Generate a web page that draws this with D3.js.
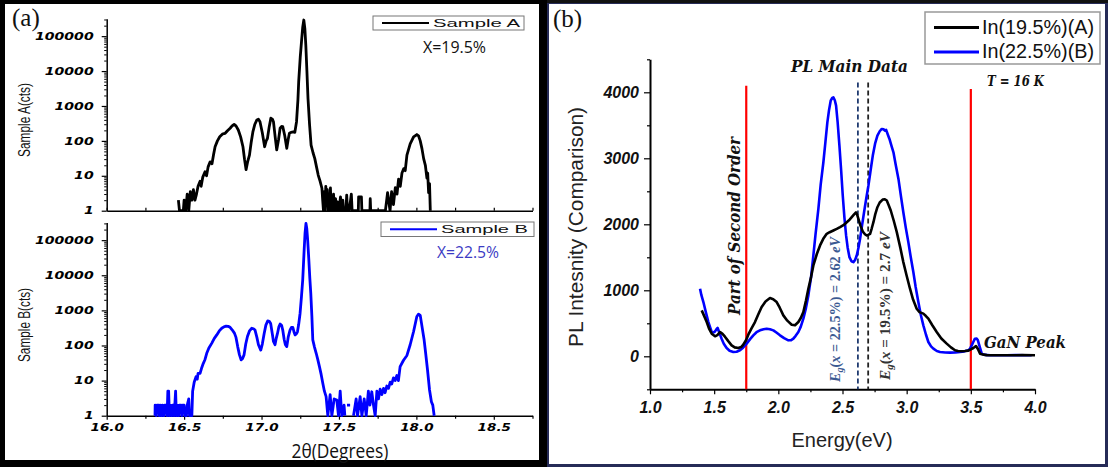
<!DOCTYPE html>
<html>
<head>
<meta charset="utf-8">
<script src="https://cdn.jsdelivr.net/npm/d3@7/dist/d3.min.js"></script>
<style>
  body { margin: 0; background: #fff; }
  svg { display: block; }
</style>
</head>
<body>
<div id="fig"></div>
<script>
// ---------- data ----------
// (a) XRD, sample A (x = 19.5%)
var thetaA = [16.463,16.47,16.495,16.50,16.51,16.52,16.53,16.54,16.55,16.56,16.57,16.58,16.59,16.603,16.61,16.62,16.635,16.645,16.655,16.668,16.68,16.69,16.70,16.715,16.73,16.75,16.765,16.78,16.797,16.81,16.823,16.835,16.85,16.865,16.88,16.89,16.90,16.91,16.922,16.933,16.944,16.957,16.97,16.98,16.99,17.005,17.02,17.03,17.038,17.05,17.06,17.07,17.077,17.088,17.098,17.11,17.12,17.13,17.137,17.15,17.163,17.172,17.18,17.19,17.205,17.215,17.226,17.235,17.24,17.25,17.258,17.266,17.273,17.28,17.286,17.293,17.30,17.31,17.32,17.333,17.344,17.355,17.366,17.378,17.39,17.395,17.40,17.405,17.41,17.415,17.42,17.425,17.43,17.435,17.44,17.445,17.45,17.455,17.46,17.465,17.47,17.478,17.485,17.49,17.50,17.51,17.515,17.525,17.53,17.545,17.55,17.555,17.565,17.575,17.58,17.585,17.60,17.625,17.627,17.645,17.648,17.70,17.702,17.705,17.80,17.814,17.83,17.84,17.852,17.864,17.875,17.885,17.896,17.907,17.918,17.928,17.939,17.96,17.982,18.003,18.014,18.025,18.036,18.047,18.058,18.068,18.073,18.079,18.085,18.09];
var countsA = [2,1,1,2,1,3,1,3.5,2,4,2,3,5,7,5,9,13,10,18,25,22,40,68,100,131,160,165,195,230,270,298,270,205,130,68,30,15,25,39,90,180,300,398,420,355,170,68,100,117,260,445,420,355,130,55,110,230,260,257,140,61,110,165,175,180,175,355,1500,5000,25000,69000,180000,290000,160000,55000,10000,1660,300,76,45,31,18,10.5,7,4.4,2,1,3.5,1,5,1.5,4,1,3,1,4.5,1,2,1,3,1,2.2,1,1.8,1,2.5,1,2,1,1,2.8,1,1,2,3,1,1,1,2.5,2.5,1,1,2.2,1,1,3.3,1,3.5,1.5,4.6,3,8,5,12,16,14,39,82,131,152,140,100,60,31,20,8.6,12,3.3,6,1];

// (a) XRD, sample B (x = 22.5%); null = gap in the trace
var thetaB = [16.312,16.313,16.32,16.325,16.335,16.34,16.345,16.355,16.36,16.37,16.375,16.385,16.39,16.395,16.40,16.405,16.41,16.42,16.425,16.43,16.435,16.44,16.445,16.45,16.455,16.465,16.47,16.48,16.485,16.49,16.50,16.505,16.515,16.52,16.53,16.535,16.545,16.55,16.555,16.565,16.577,16.585,16.59,16.603,16.612,16.624,16.635,16.646,16.66,16.678,16.695,16.711,16.727,16.743,16.757,16.771,16.785,16.797,16.81,16.825,16.835,16.846,16.857,16.868,16.877,16.887,16.898,16.909,16.922,16.937,16.948,16.958,16.97,16.98,16.995,17.005,17.017,17.028,17.04,17.05,17.059,17.07,17.077,17.087,17.095,17.103,17.112,17.12,17.13,17.137,17.146,17.154,17.163,17.173,17.184,17.193,17.202,17.21,17.217,17.225,17.232,17.24,17.249,17.258,17.266,17.275,17.281,17.287,17.292,17.298,17.305,17.312,17.318,17.325,17.331,17.342,17.353,17.363,17.374,17.385,17.396,17.406,17.417,17.428,17.443,17.454,17.469,17.486,17.497,17.508,17.518,17.533,17.538,17.545,17.552,17.572,17.58,17.594,17.611,17.62,17.637,17.648,17.663,17.676,17.69,17.70,17.712,17.723,17.734,17.745,17.755,17.766,17.777,17.788,17.798,17.809,17.82,17.831,17.841,17.852,17.863,17.874,17.884,17.895,17.917,17.939,17.96,17.982,18.003,18.014,18.025,18.035,18.05,18.06,18.072,18.085,18.097,18.106,18.115];
var countsB = [1,2,1,2,2,1,2,1,2,1,2,2,1,5,5,1,2,1,2,2,1,2,5,1,2,1,2,2,1,2,2,1,1,2,3,1,1,1,5,9,13,11,16,16,22,31,40,60,85,115,160,200,260,310,340,355,350,330,280,225,170,93,55,39,42,54,110,180,260,310,300,275,170,105,74,110,220,380,500,490,425,210,130,105,160,220,340,410,370,275,150,105,93,180,275,330,330,240,200,215,245,400,830,2500,7400,50000,158000,300000,220000,100000,30000,8000,3100,700,145,90,60,40,25,15,8.3,5,3.5,1,4,1,3,2.8,1,5,1,2,1,null,2,2,null,1,3,1,3.5,1,3,1,5,2,4.8,2,1,5,3,5.7,4,6,4.5,7,6,9,8,12,10,14,10,25,38,52,105,250,670,780,720,380,145,60,20,5.4,2.5,2,1];

// (b) PL at 16 K
var energyA = [1.403,1.42,1.442,1.46,1.481,1.507,1.525,1.546,1.565,1.584,1.61,1.636,1.66,1.688,1.71,1.727,1.75,1.766,1.79,1.818,1.845,1.87,1.90,1.935,1.96,1.987,2.01,2.039,2.07,2.104,2.13,2.156,2.175,2.195,2.215,2.234,2.255,2.273,2.30,2.325,2.35,2.377,2.40,2.429,2.455,2.481,2.51,2.533,2.555,2.572,2.59,2.605,2.615,2.624,2.64,2.658,2.675,2.689,2.70,2.715,2.728,2.741,2.755,2.772,2.79,2.813,2.83,2.845,2.86,2.876,2.90,2.923,2.95,2.974,3.0,3.026,3.05,3.078,3.10,3.13,3.15,3.169,3.20,3.234,3.27,3.312,3.345,3.377,3.40,3.429,3.455,3.481,3.50,3.52,3.54,3.555,3.572,3.60,3.624,3.70,3.80,3.90,4.0];
var plA = [696,620,519,420,343,303,320,368,340,297,230,166,135,126,140,177,250,328,420,519,640,746,830,882,865,822,740,620,540,479,470,519,580,670,840,1024,1200,1377,1550,1680,1780,1856,1880,1906,1930,1957,1990,2032,2070,2108,2150,2180,2140,2083,1980,1891,1850,1831,1840,1856,1940,2032,2150,2259,2330,2375,2380,2360,2290,2209,2050,1881,1650,1427,1220,1024,860,721,670,646,610,570,470,368,270,192,135,91,80,76,80,86,105,126,156,110,40,25,18,15,15,18,15];
var energyB = [1.39,1.40,1.416,1.435,1.455,1.47,1.481,1.495,1.507,1.518,1.527,1.54,1.558,1.575,1.597,1.62,1.649,1.675,1.701,1.725,1.753,1.78,1.805,1.83,1.857,1.885,1.909,1.935,1.961,1.985,2.013,2.045,2.078,2.10,2.117,2.135,2.156,2.175,2.195,2.215,2.234,2.255,2.273,2.29,2.312,2.33,2.351,2.367,2.382,2.395,2.408,2.42,2.429,2.44,2.45,2.462,2.476,2.49,2.502,2.515,2.528,2.54,2.554,2.57,2.585,2.598,2.611,2.624,2.637,2.652,2.668,2.685,2.702,2.72,2.736,2.755,2.772,2.79,2.806,2.82,2.83,2.84,2.855,2.866,2.88,2.897,2.915,2.936,2.955,2.974,2.993,3.013,3.032,3.052,3.07,3.091,3.11,3.13,3.15,3.169,3.19,3.208,3.235,3.26,3.30,3.338,3.38,3.416,3.45,3.481,3.495,3.507,3.52,3.532,3.545,3.555,3.57,3.585,3.61,3.65,3.70,3.78,3.85,3.92,3.974];
var plB = [1024,930,822,670,519,430,368,360,378,410,429,360,267,190,126,85,66,70,91,130,192,260,318,365,393,410,418,410,393,360,318,275,242,245,267,310,368,450,570,730,923,1200,1528,1850,2234,2600,2940,3250,3545,3730,3873,3915,3923,3880,3798,3550,3192,2800,2436,2100,1831,1650,1503,1440,1427,1460,1528,1640,1780,1980,2183,2390,2587,2830,3041,3230,3344,3410,3445,3440,3420,3430,3350,3293,3200,3091,2900,2688,2430,2183,1950,1730,1500,1276,1050,822,630,469,330,217,150,116,80,66,58,55,58,66,75,91,120,166,220,267,270,242,140,40,22,15,15,15,18,15,15];

// tick values and labels
var logMajor = [1, 10, 100, 1000, 10000, 100000];
var thetaMajor = [16.0, 16.5, 17.0, 17.5, 18.0, 18.5];
var thetaMinor = [16.25, 16.75, 17.25, 17.75, 18.25, 18.75];
var energyMajor = [1.0, 1.5, 2.0, 2.5, 3.0, 3.5, 4.0];
var energyMinor = [1.25, 1.75, 2.25, 2.75, 3.25, 3.75];
var plMajor = [0, 1000, 2000, 3000, 4000];
var plMinor = [-500, 500, 1500, 2500, 3500, 4500];

// annotation values for panel (b)
var redLines = [1.75, 3.5];
var redTops = [4100, 4050];
var gapEnergies = [2.62, 2.70];
var gapTops = [4150, 4150];
var legendNamesB = ["In(19.5%)(A)", "In(22.5%)(B)"];

// ---------- drawing ----------
var W = 1108, H = 467;
var svg = d3.select("#fig").append("svg")
  .attr("width", W).attr("height", H)
  .attr("viewBox", `0 0 ${W} ${H}`);

svg.append("rect").attr("width", W).attr("height", H).attr("fill", "#fff");

// frames: thick black around (a), thin navy around (b)
svg.append("rect").attr("x", 0).attr("y", 0).attr("width", 547).attr("height", H).attr("fill", "#000");
svg.append("rect").attr("x", 5).attr("y", 4).attr("width", 534).attr("height", 456).attr("fill", "#fff");
svg.append("rect").attr("x", 547).attr("y", 0).attr("width", W - 547).attr("height", H).attr("fill", "#262b57");
svg.append("rect").attr("x", 547).attr("y", 0).attr("width", W - 547).attr("height", 3).attr("fill", "#111");
svg.append("rect").attr("x", 549).attr("y", 4).attr("width", 556).attr("height", 460).attr("fill", "#fff");

var tickFont = "'DejaVu Sans', Verdana, sans-serif";

function stretchLabels(g) {
  g.selectAll(".tick text")
    .style("font-family", tickFont)
    .style("font-weight", "bold")
    .style("font-style", "italic")
    .style("font-size", "10px")
    .attr("fill", "#000")
    .attr("lengthAdjust", "spacingAndGlyphs")
    .attr("textLength", function() {
      var s = this.textContent;
      return s.split("").reduce(function(a, c) { return a + (c === "." ? 4 : 9.8); }, 0);
    });
}

function styleAxis(g, w) {
  g.select(".domain").attr("stroke", "#000").attr("stroke-width", w || 1.5);
  g.selectAll(".tick line").attr("stroke", "#000").attr("stroke-width", 1.2);
}

var xA = d3.scaleLinear().domain([16, 18.75]).range([106.7, 532.5]);

function xrdPanel(top, bottom, thetas, counts, color, showLabels, ylabel, ylabelY) {
  var y = d3.scaleLog().domain([1, Math.pow(10, 5.5)]).range([bottom, top]);

  var minors = [];
  logMajor.forEach(function(d) {
    for (var k = 2; k <= 9; k++) if (d * k <= Math.pow(10, 5.5)) minors.push(d * k);
  });

  // x axis
  var gx = svg.append("g").attr("transform", `translate(0,${bottom})`);
  if (showLabels) {
    gx.call(d3.axisBottom(xA).tickValues(thetaMajor).tickSize(4).tickSizeOuter(0)
      .tickPadding(4).tickFormat(d3.format(".1f")));
    stretchLabels(gx);
  } else {
    gx.call(d3.axisTop(xA).tickValues(thetaMajor).tickSize(3).tickSizeOuter(0).tickFormat(""));
  }
  styleAxis(gx);
  var gxm = svg.append("g").attr("transform", `translate(0,${bottom})`)
    .call((showLabels ? d3.axisBottom(xA) : d3.axisTop(xA)).tickValues(thetaMinor).tickSize(3).tickSizeOuter(0).tickFormat(""));
  gxm.select(".domain").remove();
  styleAxis(gxm);

  // y axis
  var gy = svg.append("g").attr("transform", `translate(${xA.range()[0]},0)`)
    .call(d3.axisLeft(y).tickValues(logMajor).tickSize(5).tickSizeOuter(0).tickPadding(8)
      .tickFormat(d3.format("d")));
  stretchLabels(gy);
  styleAxis(gy);
  var gym = svg.append("g").attr("transform", `translate(${xA.range()[0]},0)`)
    .call(d3.axisLeft(y).tickValues(minors).tickSize(2.5).tickFormat(""));
  gym.select(".domain").remove();
  gym.selectAll(".tick line").attr("stroke", "#000").attr("stroke-width", 1);

  // trace
  var pts = thetas.map(function(t, i) { return [t, counts[i]]; });
  var line = d3.line()
    .defined(function(d) { return d[1] !== null; })
    .x(function(d) { return xA(d[0]); })
    .y(function(d) { return y(Math.max(1, d[1])); });
  svg.append("path").datum(pts)
    .attr("d", line)
    .attr("fill", "none")
    .attr("stroke", color)
    .attr("stroke-width", 2.8)
    .attr("stroke-linejoin", "round");

  // y label
  svg.append("text")
    .attr("transform", `translate(30,${ylabelY}) rotate(-90)`)
    .attr("text-anchor", "middle")
    .style("font-family", "'Liberation Sans', Arial, sans-serif")
    .style("font-size", "17px")
    .attr("textLength", 74)
    .attr("lengthAdjust", "spacingAndGlyphs")
    .attr("fill", "#111")
    .text(ylabel);
}

xrdPanel(18.7, 210.7, thetaA, countsA, "#000", false, "Sample A(cts)", 120);
xrdPanel(222.6, 415.7, thetaB, countsB, "#0000ff", true, "Sample B(cts)", 325);

// panel (a) legends and notes
function smallLegend(x0, y0, w, h, color, label) {
  svg.append("rect").attr("x", x0).attr("y", y0).attr("width", w).attr("height", h)
    .attr("fill", "#fff").attr("stroke", "#777").attr("stroke-width", 1);
  svg.append("line").attr("x1", x0 + 9).attr("x2", x0 + 56)
    .attr("y1", y0 + h / 2).attr("y2", y0 + h / 2)
    .attr("stroke", color).attr("stroke-width", 2);
  svg.append("text").attr("x", x0 + 60).attr("y", y0 + h / 2 + 4)
    .style("font-family", "'Liberation Sans', Arial, sans-serif")
    .style("font-size", "11px")
    .attr("textLength", 87).attr("lengthAdjust", "spacingAndGlyphs")
    .attr("fill", "#111")
    .text(label);
}
smallLegend(373, 16, 151, 14, "#000", "Sample A");
smallLegend(381, 222, 153, 14.5, "#0000ff", "Sample B");

svg.append("text").attr("x", 423).attr("y", 53)
  .style("font-family", "'Open Sans', sans-serif").style("font-size", "16px")
  .attr("textLength", 63).attr("lengthAdjust", "spacingAndGlyphs")
  .attr("fill", "#111").text("X=19.5%");
svg.append("text").attr("x", 437).attr("y", 258)
  .style("font-family", "'Open Sans', sans-serif").style("font-size", "16px")
  .attr("textLength", 62).attr("lengthAdjust", "spacingAndGlyphs")
  .attr("fill", "#3b3bc4").text("X=22.5%");

svg.append("text").attr("x", 340).attr("y", 458).attr("text-anchor", "middle")
  .style("font-family", "'Open Sans', sans-serif").style("font-size", "20px")
  .attr("textLength", 97).attr("lengthAdjust", "spacingAndGlyphs")
  .attr("fill", "#111").text("2θ(Degrees)");

svg.append("text").attr("x", 12).attr("y", 26)
  .style("font-family", "'Liberation Serif', 'Times New Roman', serif").style("font-size", "25px")
  .attr("fill", "#111").text("(a)");

// ---------- panel (b) ----------
var xB = d3.scaleLinear().domain([1, 4]).range([650, 1035]);
var yB = d3.scaleLinear().domain([-500, 4500]).range([389.3, 59.3]);
var bFont = "'Liberation Sans', Arial, sans-serif";

function boldTicks(g) {
  g.selectAll(".tick text")
    .style("font-family", bFont).style("font-weight", "bold").style("font-style", "italic")
    .style("font-size", "16px").attr("fill", "#111");
}

var gbx = svg.append("g").attr("transform", `translate(0,${yB(-500)})`)
  .call(d3.axisBottom(xB).tickValues(energyMajor).tickSize(5).tickSizeOuter(0)
    .tickPadding(7).tickFormat(d3.format(".1f")));
boldTicks(gbx); styleAxis(gbx, 2);
var gbxm = svg.append("g").attr("transform", `translate(0,${yB(-500)})`)
  .call(d3.axisBottom(xB).tickValues(energyMinor).tickSize(3).tickFormat(""));
gbxm.select(".domain").remove(); styleAxis(gbxm);

var gby = svg.append("g").attr("transform", `translate(${xB(1)},0)`)
  .call(d3.axisLeft(yB).tickValues(plMajor).tickSize(6).tickSizeOuter(0).tickPadding(5)
    .tickFormat(d3.format("d")));
boldTicks(gby); styleAxis(gby, 2);
var gbym = svg.append("g").attr("transform", `translate(${xB(1)},0)`)
  .call(d3.axisLeft(yB).tickValues(plMinor).tickSize(3).tickFormat(""));
gbym.select(".domain").remove(); styleAxis(gbym);

// marker lines
redLines.forEach(function(e, i) {
  svg.append("line").attr("x1", xB(e)).attr("x2", xB(e))
    .attr("y1", yB(redTops[i])).attr("y2", yB(-500))
    .attr("stroke", "#ff0000").attr("stroke-width", 2.2);
});
var gapColors = ["#1f3a70", "#222"];
gapEnergies.forEach(function(e, i) {
  svg.append("line").attr("x1", xB(e)).attr("x2", xB(e))
    .attr("y1", yB(gapTops[i])).attr("y2", yB(-500))
    .attr("stroke", gapColors[i]).attr("stroke-width", 1.8)
    .attr("stroke-dasharray", "5,3");
});

// PL traces
var plLine = d3.line().x(function(d) { return xB(d[0]); }).y(function(d) { return yB(d[1]); });
svg.append("path").datum(energyB.map(function(e, i) { return [e, plB[i]]; }))
  .attr("d", plLine).attr("fill", "none").attr("stroke", "#0000ff")
  .attr("stroke-width", 2.6).attr("stroke-linejoin", "round");
svg.append("path").datum(energyA.map(function(e, i) { return [e, plA[i]]; }))
  .attr("d", plLine).attr("fill", "none").attr("stroke", "#000")
  .attr("stroke-width", 2.6).attr("stroke-linejoin", "round");

// axis titles
svg.append("text").attr("x", 842).attr("y", 447).attr("text-anchor", "middle")
  .style("font-family", bFont).style("font-size", "20px").attr("fill", "#222")
  .text("Energy(eV)");
svg.append("text").attr("transform", "translate(583,227) rotate(-90)")
  .attr("text-anchor", "middle")
  .style("font-family", bFont).style("font-size", "20px").attr("fill", "#222")
  .attr("textLength", 240).attr("lengthAdjust", "spacingAndGlyphs")
  .text("PL Intesnity (Comparison)");

svg.append("text").attr("x", 553).attr("y", 27)
  .style("font-family", "'Liberation Serif', 'Times New Roman', serif").style("font-size", "25px")
  .attr("fill", "#111").text("(b)");

// annotations
var serif = "'DejaVu Serif', 'Liberation Serif', serif";
function boldNote(x, y, txt, len, size, rot) {
  var t = svg.append("text")
    .attr("transform", `translate(${x},${y})` + (rot ? " rotate(-90)" : ""))
    .attr("text-anchor", rot ? "middle" : "start")
    .style("font-family", serif).style("font-weight", "bold").style("font-style", "italic")
    .style("font-size", size + "px").attr("fill", "#111")
    .attr("textLength", len).attr("lengthAdjust", "spacingAndGlyphs")
    .text(txt);
  return t;
}
boldNote(791, 72, "PL Main Data", 117, 17);
boldNote(987, 86, "T = 16 K", 57, 15);
boldNote(984, 348, "GaN Peak", 82, 17);
boldNote(740, 226, "Part of Second Order", 178, 17, true);

function gapLabel(x, yStart, xval, eg, color, len) {
  var t = svg.append("text")
    .attr("transform", `translate(${x},${yStart}) rotate(-90)`)
    .style("font-family", "'Liberation Serif', 'Times New Roman', serif")
    .style("font-size", "14px").style("font-weight", "bold").attr("fill", color)
    .attr("textLength", len).attr("lengthAdjust", "spacingAndGlyphs");
  t.append("tspan").style("font-style", "italic").text("E");
  t.append("tspan").style("font-style", "italic").style("font-size", "10px").attr("dy", 3).text("g");
  t.append("tspan").attr("dy", -3).text("(");
  t.append("tspan").style("font-style", "italic").text("x");
  t.append("tspan").text(" = " + xval + ") = " + eg + " ");
  t.append("tspan").style("font-style", "italic").text("eV");
}
gapLabel(840, 382, "22.5%", "2.62", "#3c5a92", 145);
gapLabel(890, 380, "19.5%", "2.7", "#333", 148);

// legend (b)
svg.append("rect").attr("x", 925).attr("y", 12).attr("width", 175).attr("height", 52)
  .attr("fill", "#fff").attr("stroke", "#999").attr("stroke-width", 1.5);
var legColors = ["#000", "#0000ff"];
legendNamesB.forEach(function(name, i) {
  var yy = 27.5 + i * 24.5;
  svg.append("line").attr("x1", 934).attr("x2", 979).attr("y1", yy).attr("y2", yy)
    .attr("stroke", legColors[i]).attr("stroke-width", 3);
  svg.append("text").attr("x", 982).attr("y", yy + 6)
    .style("font-family", bFont).style("font-size", "20px").attr("fill", "#111")
    .attr("textLength", 112).attr("lengthAdjust", "spacingAndGlyphs")
    .text(name);
});
</script>
</body>
</html>
